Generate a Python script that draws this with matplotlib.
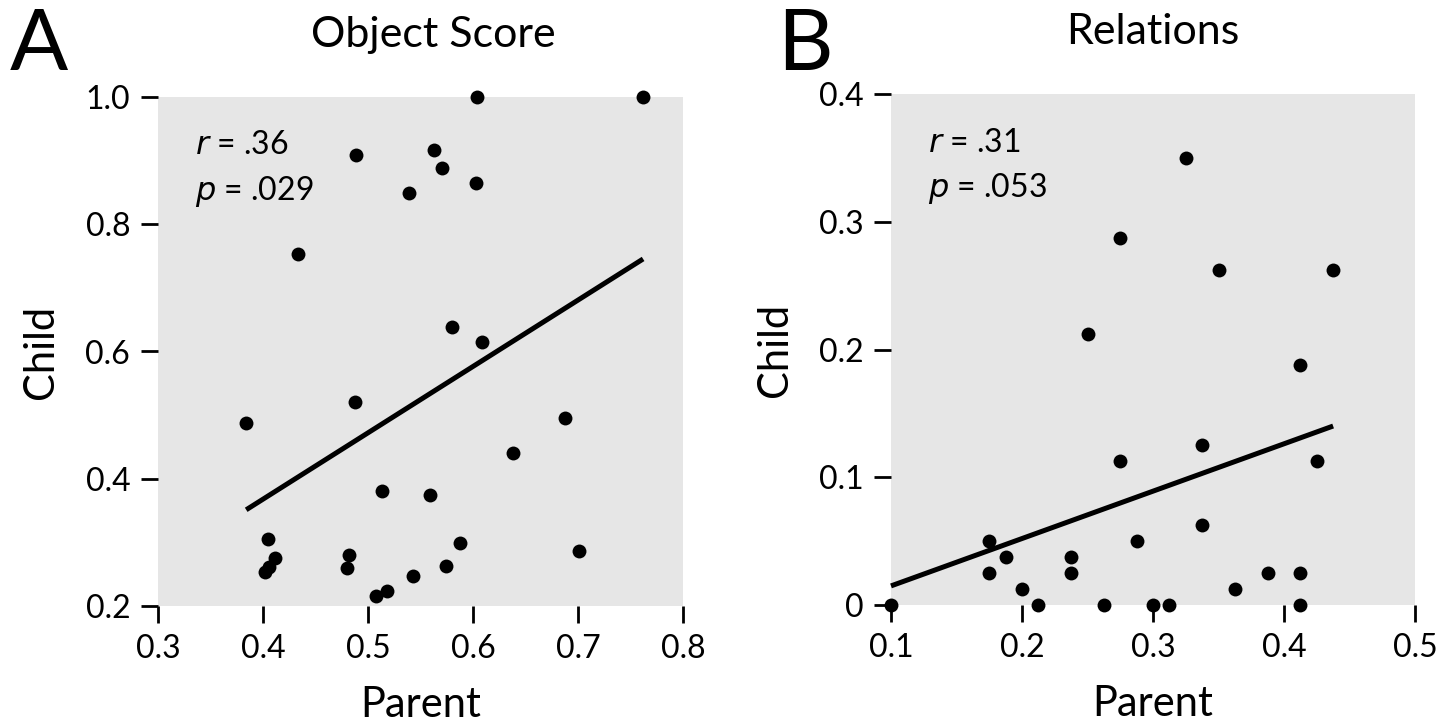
import numpy as np
import matplotlib
matplotlib.use("Agg")
import matplotlib.pyplot as plt

plt.rcParams['font.family'] = ['Lato', 'DejaVu Sans']

# Panel A: Object Score
a_parent = [0.604, 0.762, 0.489, 0.563, 0.570, 0.603, 0.539, 0.433, 0.580, 0.609,
            0.488, 0.384, 0.688, 0.638, 0.513, 0.559, 0.405, 0.588, 0.701, 0.411,
            0.482, 0.480, 0.574, 0.406, 0.402, 0.543, 0.518, 0.508]
a_child = [1.000, 1.000, 0.909, 0.916, 0.888, 0.865, 0.849, 0.754, 0.639, 0.615,
           0.521, 0.488, 0.495, 0.440, 0.381, 0.375, 0.305, 0.299, 0.287, 0.276,
           0.280, 0.259, 0.263, 0.262, 0.253, 0.247, 0.224, 0.216]

# Panel B: Relations
b_parent = [0.325, 0.275, 0.350, 0.4375, 0.250, 0.4125, 0.3375, 0.275, 0.425, 0.3375,
            0.175, 0.2875, 0.1875, 0.2375, 0.175, 0.2375, 0.3875, 0.4125, 0.200, 0.3625,
            0.100, 0.2125, 0.2625, 0.300, 0.3125, 0.4125]
b_child = [0.350, 0.2875, 0.2625, 0.2625, 0.2125, 0.1875, 0.125, 0.1125, 0.1125, 0.0625,
           0.050, 0.050, 0.0375, 0.0375, 0.025, 0.025, 0.025, 0.025, 0.0125, 0.0125,
           0.0, 0.0, 0.0, 0.0, 0.0, 0.0]

a_xticks = [0.3, 0.4, 0.5, 0.6, 0.7, 0.8]
a_yticks = [0.2, 0.4, 0.6, 0.8, 1.0]
a_yticklabels = ["0.2", "0.4", "0.6", "0.8", "1.0"]
b_xticks = [0.1, 0.2, 0.3, 0.4, 0.5]
b_yticks = [0.0, 0.1, 0.2, 0.3, 0.4]
b_yticklabels = ["0", "0.1", "0.2", "0.3", "0.4"]

titles = ["Object Score", "Relations"]
stats = [("r", ".36", "p", ".029"), ("r", ".31", "p", ".053")]
letters = ["A", "B"]

W, H = 1449, 725
fig = plt.figure(figsize=(W / 100, H / 100), dpi=100)

def px_axes(l, t, r, b):
    return [l / W, 1 - b / H, (r - l) / W, (b - t) / H]

axA = fig.add_axes(px_axes(158, 97, 683, 606))
axB = fig.add_axes(px_axes(891, 94, 1415, 605))

panels = [
    (axA, a_parent, a_child, a_xticks, a_yticks, a_yticklabels, 0.524),
    (axB, b_parent, b_child, b_xticks, b_yticks, b_yticklabels, 0.5),
]

for i, (ax, xs, ys, xt, yt, ytl, tx) in enumerate(panels):
    xs = np.array(xs); ys = np.array(ys)
    ax.set_facecolor('#e6e6e6')
    for s in ax.spines.values():
        s.set_visible(False)
    ax.set_xlim(xt[0], xt[-1])
    ax.set_ylim(yt[0], yt[-1])
    ax.set_xticks(xt)
    ax.set_xticklabels([f"{v:.1f}" for v in xt])
    ax.set_yticks(yt)
    ax.set_yticklabels(ytl)
    ax.tick_params(axis='both', direction='out', length=12, width=2, color='black',
                   labelsize=23, pad=8)
    slope, inter = np.polyfit(xs, ys, 1)
    lx = np.array([xs.min(), xs.max()])
    ax.plot(lx, slope * lx + inter, color='black', lw=3.6, solid_capstyle='butt',
            zorder=3, clip_on=False)
    ax.scatter(xs, ys, s=100, color='black', zorder=4, clip_on=False, linewidths=0)
    ax.set_xlabel("Parent", fontsize=30, labelpad=16)
    ax.set_ylabel("Child", fontsize=30, labelpad=18)
    ax.set_title(titles[i], fontsize=31, pad=36, x=tx)
    r, rv, p, pv = stats[i]
    ax.text(0.07, 0.905, f"$\\it{{{r}}}$ = {rv}", transform=ax.transAxes, fontsize=23,
            va='center', ha='left')
    ax.text(0.07, 0.815, f"$\\it{{{p}}}$ = {pv}", transform=ax.transAxes, fontsize=23,
            va='center', ha='left')

fig.text(10 / W, 1 - 46 / H, letters[0], fontsize=62, va='center', ha='left')
fig.text(777 / W, 1 - 46 / H, letters[1], fontsize=62, va='center', ha='left')

fig.savefig("out.png", dpi=100)
